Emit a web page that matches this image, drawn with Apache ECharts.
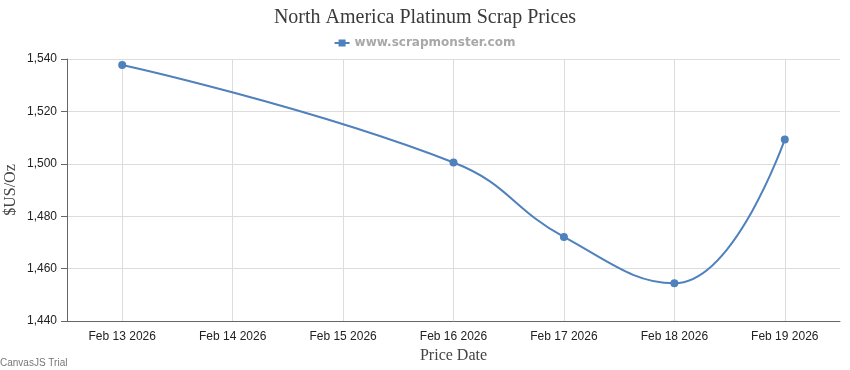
<!DOCTYPE html>
<html>
<head>
<meta charset="utf-8">
<script src="https://cdn.jsdelivr.net/npm/echarts@6/dist/echarts.min.js"></script>
<style>html,body{margin:0;padding:0;background:#fff}#c{width:850px;height:370px}</style>
</head>
<body>
<div id="c"></div>
<script>
const categories = ['Feb 13 2026','Feb 14 2026','Feb 15 2026','Feb 16 2026','Feb 17 2026','Feb 18 2026','Feb 19 2026'];
const priceDates = ['Feb 13 2026','Feb 16 2026','Feb 17 2026','Feb 18 2026','Feb 19 2026'];
const priceValues = [1537.7, 1500.5, 1472.1, 1454.4, 1509.3];
const yTicks = {min: 1440, max: 1540, step: 20};

const chart = echarts.init(document.getElementById('c'), null, {renderer: 'canvas'});
chart.setOption({
  animation: false,
  backgroundColor: '#fff',
  title: {
    text: 'North America Platinum Scrap Prices',
    left: 'center', top: 3,
    textStyle: {fontFamily: 'Liberation Serif', fontSize: 20, fontWeight: 'normal', color: '#3a3a3a'}
  },
  legend: {
    top: 32, left: 'center',
    itemWidth: 15, itemHeight: 9, itemGap: 5,
    icon: 'path://M0,3.5 L15,3.5 L15,5.5 L0,5.5 Z M4,1 L11,1 L11,8 L4,8 Z',
    textStyle: {fontFamily: 'DejaVu Sans', fontWeight: 'bold', fontSize: 12, color: '#a8a8a8'},
    data: ['www.scrapmonster.com']
  },
  grid: {left: 67, right: 10, top: 59, bottom: 49, containLabel: false, outerBoundsMode: 'none'},
  xAxis: {
    type: 'category',
    data: categories,
    boundaryGap: true,
    name: 'Price Date', nameLocation: 'middle', nameGap: 27, nameMoveOverlap: false,
    nameTextStyle: {fontFamily: 'Liberation Serif', fontSize: 16, color: '#444'},
    axisLine: {lineStyle: {color: '#666', width: 1}},
    axisTick: {alignWithLabel: true, length: 6, lineStyle: {color: '#666'}},
    axisLabel: {fontFamily: 'Liberation Sans', fontSize: 12, color: '#222', margin: 10},
    splitLine: {show: true, alignWithLabel: true, lineStyle: {color: '#dcdcdc', width: 1}}
  },
  yAxis: {
    type: 'value',
    min: yTicks.min, max: yTicks.max, interval: yTicks.step,
    name: '$US/Oz', nameLocation: 'middle', nameGap: 48, nameMoveOverlap: false,
    nameTextStyle: {fontFamily: 'Liberation Serif', fontSize: 16, color: '#444'},
    axisLine: {show: true, lineStyle: {color: '#666', width: 1}},
    axisTick: {show: true, length: 6, lineStyle: {color: '#666'}},
    axisLabel: {fontFamily: 'Liberation Sans', fontSize: 12, color: '#222', margin: 10,
      formatter: v => v.toLocaleString('en-US')},
    splitLine: {show: true, lineStyle: {color: '#dcdcdc', width: 1}}
  },
  series: [{
    name: 'www.scrapmonster.com',
    type: 'line',
    smooth: 0.45,
    data: priceDates.map((d, i) => [d, priceValues[i]]),
    symbol: 'circle', symbolSize: 8,
    lineStyle: {color: '#4F81BC', width: 2},
    itemStyle: {color: '#4F81BC'}
  }],
  graphic: [{
    type: 'text', left: 0, bottom: 2,
    style: {text: 'CanvasJS Trial', fontFamily: 'Liberation Sans', fontSize: 10, fill: '#777'}
  }]
});
</script>
</body>
</html>
